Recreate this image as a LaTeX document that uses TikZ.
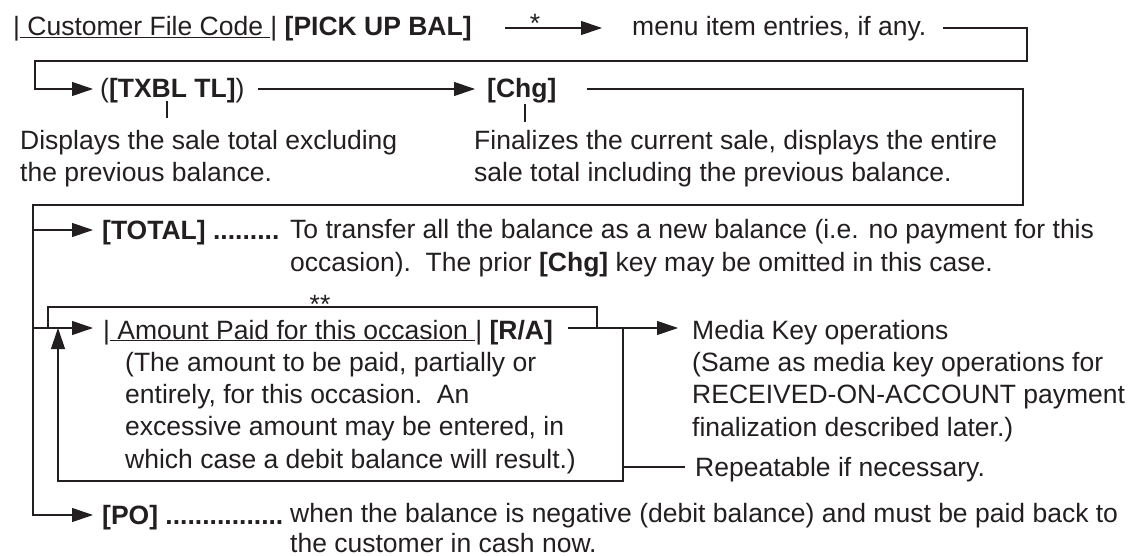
\documentclass[tikz,border=0pt]{standalone}
\usepackage{fontspec}
\setmainfont{Liberation Sans}
\usepackage{xcolor}
\usetikzlibrary{arrows.meta}
\definecolor{ink}{RGB}{35,31,32}

\begin{document}
\begin{tikzpicture}[x=1pt,y=-1pt,
txt/.style={anchor=base west,inner sep=0pt,align=left,text=ink,font=\fontsize{26.5}{32.3}\selectfont},
wire/.style={draw=ink,line width=1.1pt},
arr/.style={wire,-{Triangle[length=21pt,width=14pt]}}]
\useasboundingbox (0,0) rectangle (1134,556);

% texts (multi-line ones sit on the baseline of their last line)
\node[txt] (code) at (13,36) {|\underline{\ Customer File Code\ }| \textbf{[PICK UP BAL]}};
\node[txt,anchor=base] (star) at (535,33) {*};
\node[txt] (menu) at (632,36) {menu item entries, if any.};
\node[txt] (txbl) at (100,98) {(\textbf{[TXBL TL]})};
\node[txt] (chg) at (487,98) {\textbf{[Chg]}};
\node[txt] (txblNote) at (20,182) {Displays the sale total excluding\\the previous balance.};
\node[txt] (chgNote) at (474,182) {Finalizes the current sale, displays the entire\\sale total including the previous balance.};
\node[txt] (total) at (102,239) {\textbf{[TOTAL] .........}};
\node[txt] (totalNote) at (290,271) {To transfer all the balance as a new balance (i.e. no payment for this\\occasion).\ \ The prior \textbf{[Chg]} key may be omitted in this case.};
\node[txt,anchor=base] (stars) at (320,313) {**};
\node[txt] (paid) at (103,339) {|\underline{\ Amount Paid for this occasion\ }| \textbf{[R/A]}};
\node[txt] (paidNote) at (125,468) {(The amount to be paid, partially or\\entirely, for this occasion.\ \ An\\excessive amount may be entered, in\\which case a debit balance will result.)};
\node[txt] (media) at (692,436) {Media Key operations\\(Same as media key operations for\\RECEIVED-ON-ACCOUNT payment\\finalization described later.)};
\node[txt] (repeat) at (695,476) {Repeatable if necessary.};
\node[txt] (po) at (102,524) {\textbf{[PO] ................}};
\node[txt,font=\fontsize{26.5}{29.5}\selectfont] (poNote) at (290,552) {when the balance is negative (debit balance) and must be paid back to\\the customer in cash now.};

% corners of the connectors
\coordinate (starLine) at (505,28);
\coordinate (rt1) at (1027,28);
\coordinate (rt2) at (1027,61);
\coordinate (lt1) at (35,61);
\coordinate (lt2) at (35,89);
\coordinate (rt3) at (1023,89);
\coordinate (rt4) at (1023,205);
\coordinate (lt3) at (33,205);
\coordinate (totLine) at (33,230);
\coordinate (paidLine) at (33,328);
\coordinate (poLine) at (33,515);
\coordinate (lp1) at (48,328);
\coordinate (lp2) at (48,307);
\coordinate (lp3) at (597,307);
\coordinate (lp4) at (597,328);
\coordinate (rp1) at (623,328);
\coordinate (rp2) at (623,481);
\coordinate (rp3) at (58,481);
\coordinate (rp4) at (58,328);
\coordinate (rp5) at (623,467);
\coordinate (tk1) at (167,101);
\coordinate (tk2) at (167,118);
\coordinate (tk3) at (525,104);
\coordinate (tk4) at (525,122);

% connectors
\draw[arr,shorten >=30pt] (starLine) -- (starLine -| menu.west);
\draw[arr,shorten <=17pt,shorten >=7pt] (menu.east |- rt1) -- (rt1) -- (rt2) -- (lt1) -- (lt2) -- (lt2 -| txbl.west);
\draw[arr,shorten <=13pt,shorten >=12pt] (txbl.east |- lt2) -- (lt2 -| chg.west);
\draw[arr,shorten <=30pt,shorten >=9pt] (chg.east |- rt3) -- (rt3) -- (rt4) -- (lt3) -- (poLine) -- (poLine -| po.west);
\draw[arr,shorten >=9pt] (totLine) -- (totLine -| total.west);
\draw[arr,shorten >=10pt] (paidLine) -- (paidLine -| paid.west);
\draw[wire] (lp1) -- (lp2) -- (lp3) -- (lp4);
\draw[arr,shorten <=15pt,shorten >=14pt] (paid.east |- paidLine) -- (paidLine -| media.west);
\draw[arr] (rp1) -- (rp2) -- (rp3) -- (rp4);
\draw[wire,shorten >=10pt] (rp5) -- (rp5 -| repeat.west);
\draw[wire] (tk1) -- (tk2);
\draw[wire] (tk3) -- (tk4);
\end{tikzpicture}
\end{document}
